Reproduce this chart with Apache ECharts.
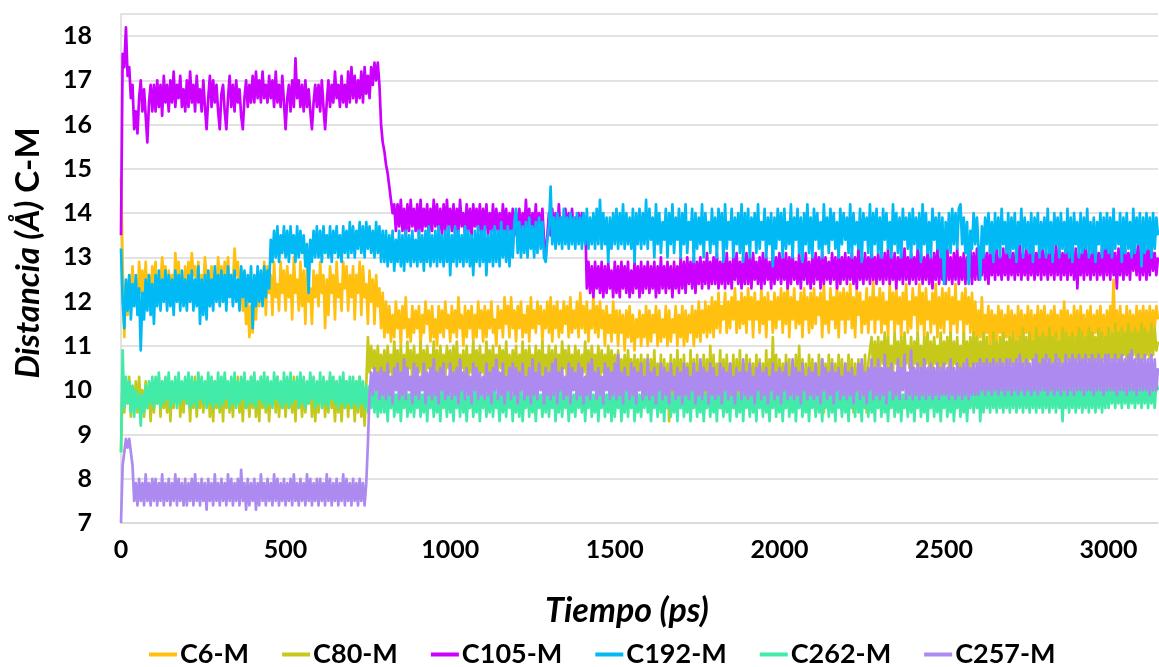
<!DOCTYPE html>
<html>
<head>
<meta charset="utf-8">
<title>Distancia C-M vs Tiempo</title>
<script src="https://cdn.jsdelivr.net/npm/echarts/dist/echarts.min.js"></script>
<style>
  html, body { margin: 0; padding: 0; background: #ffffff; }
  #chart { width: 1159px; height: 667px; }
</style>
</head>
<body>
<div id="chart"></div>
<script>
// Sampling interval of the exported trajectory (ps)
const timeStepPs = 5;

const seriesNames = ['C6-M', 'C80-M', 'C105-M', 'C192-M', 'C262-M', 'C257-M'];
const xTicks = [0, 500, 1000, 1500, 2000, 2500, 3000];
const yTicks = [7, 8, 9, 10, 11, 12, 13, 14, 15, 16, 17, 18];

// Distances (Å), one value every 5 ps from 0 to 3150 ps (20 values per 100 ps row)
const c6M = [
  14.8, 12.9, 11.2, 12.4, 11.7, 12.6, 11.9, 12.8, 12.0, 12.5, 11.8, 12.9, 12.2, 12.7, 12.0, 12.9, 12.1, 12.6, 11.9, 12.8,
  12.3, 12.9, 12.0, 12.6, 12.4, 13.0, 12.5, 12.8, 11.9, 12.7, 12.2, 12.6, 12.0, 13.1, 12.5, 12.9, 12.3, 12.6, 12.1, 12.8,
  12.0, 12.9, 12.4, 13.1, 12.6, 12.8, 12.2, 12.9, 12.0, 12.6, 12.3, 13.0, 12.5, 12.7, 11.9, 12.8, 12.3, 12.6, 12.2, 13.0,
  12.4, 12.8, 12.0, 12.9, 12.5, 13.0, 12.2, 12.6, 12.4, 13.2, 12.6, 12.9, 12.1, 12.7, 11.8, 12.3, 11.5, 12.1, 11.2, 11.9,
  11.3, 12.3, 11.6, 12.5, 11.9, 12.6, 12.1, 12.9, 11.7, 12.8, 12.2, 12.6, 11.7, 12.9, 12.1, 12.4, 11.8, 12.9, 12.2, 12.7,
  11.8, 12.8, 12.1, 12.6, 11.6, 13.0, 12.2, 12.5, 11.8, 12.9, 11.9, 12.7, 11.5, 12.8, 12.0, 12.3, 11.5, 12.7, 12.1, 12.6,
  11.9, 12.9, 12.2, 12.6, 11.4, 12.5, 11.7, 12.8, 12.2, 12.6, 11.6, 12.9, 12.1, 12.4, 11.8, 12.9, 12.3, 12.8, 11.8, 12.6,
  12.1, 12.8, 11.6, 12.6, 12.2, 12.9, 11.7, 12.8, 12.1, 12.4, 11.5, 12.7, 12.0, 12.5, 11.5, 12.6, 11.9, 12.3, 11.4, 12.2,
  11.2, 12.0, 11.3, 11.9, 11.1, 11.7, 11.2, 12.0, 11.4, 11.8, 11.0, 11.9, 11.4, 12.1, 11.2, 11.6, 11.1, 11.9, 11.3, 11.8,
  11.4, 11.9, 11.0, 11.7, 11.3, 12.0, 11.5, 11.8, 11.1, 11.9, 11.2, 11.6, 11.0, 11.9, 11.3, 11.8, 11.2, 12.0, 11.4, 11.7,
  11.1, 11.9, 11.3, 11.8, 11.2, 12.1, 11.4, 11.7, 11.0, 11.9, 11.2, 11.8, 11.4, 11.9, 11.1, 11.7, 11.2, 12.0, 11.4, 11.8,
  11.1, 11.9, 11.2, 11.8, 11.4, 12.0, 11.3, 11.6, 11.0, 11.9, 11.4, 11.8, 11.2, 12.1, 11.5, 11.9, 11.2, 12.1, 11.4, 11.8,
  11.1, 11.9, 11.4, 12.0, 11.2, 11.7, 11.3, 11.9, 11.1, 12.1, 11.4, 11.8, 11.3, 12.0, 11.5, 11.9, 11.1, 11.8, 11.4, 12.0,
  11.3, 12.1, 11.1, 11.9, 11.4, 12.0, 11.2, 11.8, 11.3, 12.0, 11.5, 11.9, 11.2, 12.1, 11.3, 11.8, 11.4, 12.0, 11.2, 12.2,
  11.4, 11.9, 11.3, 12.0, 11.1, 11.8, 11.4, 12.1, 11.3, 11.9, 11.2, 12.0, 11.4, 11.8, 11.0, 11.9, 11.3, 11.7, 11.1, 12.0,
  11.3, 11.8, 11.0, 11.8, 11.3, 11.7, 10.9, 11.8, 11.2, 11.9, 11.1, 11.7, 10.9, 11.6, 11.2, 11.8, 11.0, 11.7, 11.2, 11.9,
  11.0, 11.8, 11.1, 11.7, 11.3, 11.9, 11.0, 11.8, 11.1, 11.6, 11.2, 11.9, 11.0, 11.8, 11.1, 11.6, 11.3, 11.9, 11.0, 11.7,
  11.2, 11.9, 11.0, 11.8, 11.1, 11.7, 11.3, 11.9, 11.0, 11.8, 11.2, 12.0, 11.1, 11.8, 11.3, 12.0, 11.2, 11.9, 11.3, 12.1,
  11.2, 12.0, 11.4, 12.2, 11.3, 11.9, 11.6, 12.2, 11.3, 12.0, 11.4, 12.1, 11.6, 12.3, 11.3, 12.0, 11.4, 12.2, 11.5, 12.1,
  11.3, 12.3, 11.6, 12.1, 11.2, 12.2, 11.6, 12.0, 11.3, 12.3, 11.5, 12.1, 11.2, 12.2, 11.6, 12.0, 11.3, 12.2, 11.4, 12.1,
  11.6, 12.3, 11.3, 12.2, 11.5, 12.4, 11.2, 12.1, 11.6, 12.3, 11.4, 12.0, 11.5, 12.2, 11.2, 12.3, 11.6, 12.1, 11.3, 12.2,
  11.4, 12.3, 11.5, 12.1, 11.7, 12.2, 11.2, 12.4, 11.5, 12.0, 11.3, 12.3, 11.6, 12.1, 11.4, 12.4, 11.2, 12.2, 11.6, 12.3,
  11.3, 12.2, 11.6, 12.4, 11.4, 12.1, 11.2, 12.3, 11.7, 12.2, 11.3, 12.0, 11.5, 12.3, 11.3, 12.1, 11.6, 12.5, 11.3, 12.1,
  11.6, 12.3, 11.3, 12.2, 11.5, 12.0, 11.2, 12.4, 11.6, 12.2, 11.3, 12.3, 11.5, 12.1, 11.2, 12.2, 11.6, 12.4, 11.3, 12.0,
  11.4, 12.3, 11.7, 12.1, 11.3, 12.4, 11.5, 12.2, 11.2, 12.3, 11.6, 12.0, 11.3, 12.2, 11.5, 12.4, 11.2, 12.1, 11.4, 12.3,
  11.3, 12.2, 11.6, 12.3, 11.2, 12.1, 11.5, 12.4, 11.3, 12.0, 11.6, 12.2, 11.2, 12.3, 11.5, 12.1, 11.3, 12.2, 11.2, 12.0,
  11.0, 11.8, 11.2, 12.1, 11.0, 11.7, 11.3, 11.9, 10.9, 11.8, 11.2, 11.7, 11.0, 11.9, 11.3, 11.8, 10.9, 11.7, 11.2, 11.9,
  11.0, 11.8, 11.3, 11.7, 10.9, 11.9, 11.2, 11.8, 11.0, 11.7, 11.3, 11.9, 11.0, 11.8, 10.9, 11.7, 11.2, 11.9, 11.0, 11.8,
  11.2, 11.9, 11.0, 11.7, 11.3, 11.8, 10.9, 11.9, 11.2, 11.7, 11.0, 11.8, 11.3, 12.0, 11.0, 11.8, 11.2, 11.7, 10.9, 11.9,
  11.2, 11.8, 11.0, 11.9, 11.3, 11.7, 11.0, 11.8, 11.2, 11.9, 10.9, 11.7, 11.3, 11.8, 11.0, 11.9, 11.2, 11.7, 11.0, 11.8,
  11.2, 11.9, 11.3, 12.5, 11.1, 11.8, 11.0, 11.9, 11.3, 11.7, 11.1, 11.9, 11.0, 11.8, 11.3, 11.7, 11.0, 11.9, 11.2, 11.8,
  11.1, 11.9, 11.3, 11.8, 11.1, 11.9, 11.3, 11.8, 11.4, 11.9, 11.6
];

const c80M = [
  8.6, 10.3, 9.5, 10.2, 9.7, 10.3, 9.4, 10.1, 9.6, 10.2, 9.5, 10.3, 9.7, 10.0, 9.4, 10.2, 9.6, 10.1, 9.3, 10.2,
  9.5, 10.1, 9.7, 10.3, 9.4, 10.2, 9.6, 10.0, 9.5, 10.3, 9.3, 10.1, 9.6, 10.2, 9.7, 10.3, 9.4, 10.0, 9.5, 10.2,
  9.7, 10.1, 9.3, 10.2, 9.6, 10.3, 9.4, 10.0, 9.6, 10.2, 9.5, 10.1, 9.7, 10.3, 9.4, 10.1, 9.3, 10.2, 9.6, 10.0,
  9.5, 10.2, 9.3, 10.3, 9.6, 10.0, 9.5, 10.2, 9.4, 10.1, 9.7, 10.3, 9.5, 10.1, 9.3, 10.2, 9.6, 10.0, 9.4, 10.3,
  9.6, 10.2, 9.4, 10.1, 9.3, 10.3, 9.6, 10.0, 9.5, 10.2, 9.3, 10.1, 9.7, 10.2, 9.5, 10.3, 9.4, 10.0, 9.6, 10.1,
  9.4, 10.2, 9.6, 10.0, 9.5, 10.3, 9.3, 10.2, 9.6, 10.1, 9.4, 10.2, 9.5, 10.0, 9.7, 10.3, 9.4, 10.2, 9.3, 10.1,
  9.5, 10.2, 9.7, 10.0, 9.4, 10.1, 9.5, 10.3, 9.6, 10.0, 9.3, 10.2, 9.5, 10.1, 9.3, 10.0, 9.6, 10.2, 9.4, 10.1,
  9.6, 10.1, 9.3, 10.2, 9.5, 10.3, 9.4, 10.0, 9.2, 10.1, 11.2, 10.4, 11.0, 10.5, 10.9, 10.3, 11.0, 10.4, 10.8, 10.3,
  10.9, 10.2, 11.0, 10.4, 10.8, 10.3, 11.1, 10.5, 10.9, 10.2, 11.0, 10.4, 10.8, 10.3, 11.1, 10.5, 10.9, 10.2, 11.0, 10.3,
  10.8, 10.4, 11.1, 10.3, 10.9, 10.2, 11.0, 10.5, 10.8, 10.3, 11.1, 10.4, 10.9, 10.2, 11.0, 10.4, 10.8, 10.3, 11.0, 10.5,
  10.9, 10.2, 11.0, 10.3, 11.1, 10.4, 10.8, 10.5, 10.9, 10.2, 11.0, 10.3, 10.8, 10.4, 11.1, 10.3, 10.9, 10.2, 11.0, 10.4,
  10.8, 10.3, 11.1, 10.4, 10.9, 10.2, 11.0, 10.3, 10.8, 10.4, 11.0, 10.5, 10.9, 10.2, 11.1, 10.3, 10.8, 10.2, 10.9, 10.4,
  11.0, 10.2, 10.8, 10.4, 11.1, 10.3, 10.9, 10.2, 11.0, 10.5, 10.8, 10.3, 11.0, 10.4, 10.9, 10.2, 11.1, 10.3, 10.8, 10.4,
  11.0, 10.3, 10.9, 10.2, 11.0, 10.4, 10.8, 10.3, 11.1, 10.5, 10.9, 10.2, 11.0, 10.3, 10.8, 10.4, 11.0, 10.3, 10.9, 10.2,
  10.8, 10.4, 11.1, 10.3, 10.9, 10.2, 11.0, 10.4, 10.8, 10.3, 11.0, 10.2, 10.9, 10.4, 10.8, 10.3, 11.0, 10.2, 10.9, 10.3,
  10.8, 10.2, 10.9, 10.3, 10.7, 10.2, 10.8, 10.1, 10.9, 10.3, 10.7, 10.1, 10.8, 10.2, 10.7, 10.0, 10.8, 9.9, 10.7, 10.0,
  10.8, 9.8, 10.7, 9.9, 10.9, 9.7, 10.6, 9.8, 10.8, 9.7, 10.7, 9.6, 10.6, 9.3, 10.8, 9.7, 10.7, 9.8, 10.9, 9.9,
  10.7, 9.7, 10.8, 9.8, 10.6, 9.6, 10.9, 9.9, 10.7, 9.7, 10.8, 9.8, 10.6, 9.6, 10.8, 9.9, 10.7, 9.7, 11.0, 9.8,
  10.8, 9.7, 10.6, 9.9, 10.9, 9.6, 10.7, 9.8, 10.8, 9.7, 10.6, 9.9, 10.8, 9.6, 10.7, 9.8, 10.9, 9.7, 10.6, 9.9,
  10.8, 9.7, 10.7, 9.8, 10.6, 9.6, 10.8, 9.9, 10.7, 9.7, 10.6, 9.8, 10.9, 9.6, 10.7, 9.9, 11.2, 9.8, 10.8, 9.7,
  10.7, 9.8, 10.6, 9.6, 10.8, 9.9, 10.7, 9.7, 10.6, 9.8, 10.8, 9.7, 11.0, 9.8, 10.7, 9.6, 10.6, 9.7, 10.8, 9.9,
  10.7, 9.7, 10.6, 9.8, 10.8, 9.6, 10.7, 9.5, 10.6, 9.7, 10.8, 9.8, 10.7, 9.6, 10.6, 9.7, 10.8, 9.9, 10.7, 9.6,
  10.6, 9.7, 10.8, 9.8, 10.7, 9.5, 10.6, 9.7, 10.7, 9.6, 10.6, 9.8, 10.8, 9.5, 10.6, 10.6, 11.2, 10.5, 11.1, 10.4,
  11.2, 10.5, 11.1, 10.6, 11.3, 10.4, 11.2, 10.5, 11.0, 10.4, 11.3, 10.6, 11.1, 10.5, 11.2, 10.4, 11.3, 10.6, 11.0, 10.5,
  11.2, 10.4, 11.1, 10.6, 11.3, 10.5, 11.0, 10.4, 11.2, 10.6, 11.3, 10.5, 11.1, 10.4, 11.2, 10.6, 11.0, 10.5, 11.3, 10.4,
  11.1, 10.6, 11.2, 10.5, 11.3, 10.4, 11.1, 10.6, 11.2, 10.5, 11.0, 10.4, 11.3, 10.6, 11.1, 10.5, 11.2, 10.4, 11.3, 10.6,
  11.2, 10.5, 11.1, 10.6, 11.3, 10.4, 11.2, 10.6, 11.0, 10.5, 11.3, 10.6, 11.1, 10.4, 11.2, 10.5, 11.3, 10.6, 11.1, 10.5,
  11.2, 10.6, 11.3, 10.5, 11.1, 10.7, 11.2, 10.5, 11.4, 10.6, 11.2, 10.5, 11.3, 10.7, 11.1, 10.6, 11.4, 10.5, 11.2, 10.6,
  11.3, 10.6, 11.2, 10.7, 11.4, 10.5, 11.2, 10.6, 11.3, 10.7, 11.1, 10.6, 11.4, 10.5, 11.3, 10.7, 11.2, 10.6, 11.3, 10.5,
  11.2, 10.7, 11.4, 10.6, 11.3, 10.5, 11.2, 10.7, 11.4, 10.6, 11.3, 10.5, 11.2, 10.7, 11.4, 10.6, 11.3, 10.7, 11.2, 10.6,
  11.4, 10.7, 11.3, 10.6, 11.5, 10.7, 11.3, 10.6, 11.4, 10.8, 11.3, 10.6, 11.5, 10.7, 11.3, 10.8, 11.4, 10.7, 11.3, 10.6,
  11.5, 10.7, 11.4, 10.8, 11.3, 10.7, 11.5, 10.8, 11.4, 10.9, 11.1
];

const c105M = [
  13.5, 17.6, 17.3, 18.2, 17.1, 17.3, 16.6, 16.9, 15.9, 16.3, 15.8, 16.6, 17.0, 16.3, 16.8, 16.2, 15.6, 16.5, 16.9, 16.3,
  16.9, 16.3, 17.0, 16.4, 16.9, 16.2, 17.1, 16.5, 16.9, 16.3, 17.0, 16.5, 17.2, 16.4, 16.9, 16.6, 17.1, 16.4, 16.8, 16.3,
  17.0, 16.4, 17.2, 16.5, 16.9, 16.3, 17.1, 16.5, 16.8, 16.3, 17.0, 16.4, 15.9, 16.6, 17.1, 16.4, 17.0, 16.5, 16.9, 16.3,
  15.9, 16.7, 16.9, 16.3, 15.9, 16.6, 17.1, 16.4, 16.9, 16.3, 17.0, 16.5, 16.8, 16.2, 15.9, 16.6, 17.0, 16.4, 16.9, 16.5,
  17.1, 16.5, 17.2, 16.6, 17.0, 16.5, 17.2, 16.6, 16.9, 16.5, 17.1, 16.6, 17.0, 16.4, 17.2, 16.5, 16.9, 16.4, 17.1, 16.5,
  15.9, 16.6, 16.9, 16.3, 17.0, 16.4, 17.5, 16.6, 17.0, 16.4, 16.9, 16.3, 17.0, 16.4, 16.8, 16.3, 15.9, 16.5, 16.9, 16.4,
  16.9, 16.3, 17.0, 16.4, 15.9, 16.5, 17.0, 16.4, 16.9, 16.5, 17.2, 16.6, 16.9, 16.4, 17.1, 16.5, 16.9, 16.4, 17.2, 16.5,
  17.3, 16.6, 17.1, 16.5, 17.0, 16.6, 17.2, 16.5, 17.3, 16.7, 17.1, 16.6, 17.3, 16.9, 17.4, 17.0, 17.4, 16.9, 16.0, 15.6,
  15.4, 15.1, 14.9, 14.6, 14.3, 14.0, 14.2, 13.6, 14.2, 13.7, 14.3, 13.6, 14.1, 13.5, 14.2, 13.6, 14.3, 13.7, 14.1, 13.6,
  14.2, 13.5, 14.3, 13.6, 14.1, 13.7, 14.2, 13.5, 14.1, 13.6, 14.3, 13.7, 14.2, 13.6, 14.1, 13.5, 14.2, 13.6, 14.3, 13.7,
  14.1, 13.6, 14.2, 13.5, 14.1, 13.6, 14.3, 13.7, 14.0, 13.5, 14.2, 13.6, 14.1, 13.5, 14.2, 13.7, 14.1, 13.6, 14.2, 13.5,
  14.1, 13.6, 14.2, 13.5, 14.0, 13.6, 14.2, 13.5, 14.1, 13.6, 14.0, 13.5, 14.2, 13.6, 14.1, 13.5, 14.0, 13.6, 14.1, 13.5,
  14.0, 13.6, 14.1, 13.5, 14.0, 13.5, 14.3, 13.6, 14.1, 13.5, 14.0, 13.6, 14.2, 13.5, 14.0, 13.6, 14.1, 13.4, 13.0, 13.5,
  14.0, 13.5, 14.1, 13.6, 14.0, 13.5, 14.2, 13.6, 13.9, 13.5, 14.1, 13.6, 14.0, 13.5, 14.1, 13.6, 13.9, 13.5, 14.0, 13.6,
  14.0, 13.5, 13.9, 12.3, 12.9, 12.2, 12.8, 12.1, 12.9, 12.3, 12.8, 12.2, 12.9, 12.1, 12.8, 12.2, 12.9, 12.3, 12.7, 12.1,
  12.9, 12.2, 12.8, 12.1, 12.9, 12.3, 12.8, 12.2, 12.9, 12.1, 12.7, 12.2, 12.9, 12.3, 12.8, 12.1, 12.9, 12.2, 12.8, 12.3,
  12.9, 12.2, 12.8, 12.3, 12.9, 12.1, 12.8, 12.2, 13.0, 12.3, 12.8, 12.2, 12.9, 12.3, 12.8, 12.1, 12.9, 12.3, 12.8, 12.2,
  13.0, 12.3, 12.9, 12.2, 13.0, 12.4, 12.9, 12.3, 13.0, 12.2, 12.9, 12.4, 13.0, 12.3, 12.9, 12.4, 13.1, 12.3, 12.9, 12.4,
  13.0, 12.4, 13.1, 12.3, 12.9, 12.4, 13.0, 12.3, 13.1, 12.4, 12.9, 12.3, 13.0, 12.5, 13.1, 12.4, 12.9, 12.3, 13.0, 12.4,
  13.1, 12.4, 13.0, 12.3, 13.1, 12.5, 12.9, 12.4, 13.0, 12.3, 13.1, 12.4, 13.0, 12.5, 12.9, 12.3, 13.1, 12.4, 13.0, 12.5,
  13.1, 12.4, 13.0, 12.5, 13.1, 12.3, 13.0, 12.4, 13.1, 12.5, 12.9, 12.4, 13.1, 12.3, 13.0, 12.5, 13.1, 12.4, 12.9, 12.3,
  13.0, 12.4, 13.1, 12.5, 13.0, 12.3, 13.1, 12.4, 13.0, 12.5, 12.9, 12.4, 13.1, 12.5, 13.0, 12.3, 13.1, 12.4, 13.0, 12.5,
  13.1, 12.4, 13.0, 12.5, 13.1, 12.4, 13.0, 12.3, 13.2, 12.5, 13.0, 12.4, 13.1, 12.5, 13.0, 12.4, 13.2, 12.5, 13.0, 12.4,
  13.1, 12.5, 13.0, 12.4, 13.1, 12.5, 13.2, 12.4, 13.0, 12.5, 13.1, 12.3, 13.0, 12.5, 13.1, 12.4, 13.2, 12.5, 13.0, 12.4,
  13.1, 12.5, 13.0, 12.4, 13.2, 12.5, 13.1, 12.4, 13.0, 12.5, 13.1, 12.4, 13.0, 12.3, 13.1, 12.5, 13.2, 12.4, 13.0, 12.5,
  13.1, 12.4, 13.2, 12.5, 13.0, 12.4, 13.1, 12.5, 13.2, 12.4, 13.0, 12.5, 13.1, 12.4, 13.0, 12.5, 13.2, 12.4, 13.1, 12.5,
  13.2, 12.5, 13.1, 12.6, 13.2, 12.5, 13.1, 12.4, 13.2, 12.6, 13.1, 12.5, 13.2, 12.6, 13.0, 12.5, 13.2, 12.6, 13.1, 12.5,
  13.2, 12.6, 13.1, 12.5, 13.2, 12.6, 13.3, 12.5, 13.1, 12.6, 13.2, 12.5, 13.1, 12.6, 13.2, 12.5, 13.1, 12.6, 13.3, 12.5,
  13.2, 12.6, 13.1, 12.5, 13.2, 12.6, 13.1, 12.5, 13.3, 12.6, 13.2, 12.5, 13.1, 12.6, 13.2, 12.5, 13.3, 12.6, 13.1, 12.5,
  13.2, 12.3, 13.1, 12.6, 13.2, 12.5, 13.3, 12.6, 13.1, 12.5, 13.2, 12.6, 13.3, 12.5, 13.1, 12.6, 13.2, 12.5, 13.3, 12.6,
  13.2, 12.5, 13.3, 12.6, 13.1, 12.3, 13.2, 12.6, 13.3, 12.5, 13.2, 12.6, 13.1, 12.5, 13.3, 12.7, 13.2, 12.6, 13.3, 12.5,
  13.2, 12.6, 13.3, 12.5, 13.2, 12.6, 13.3, 12.7, 13.1, 12.6, 13.0
];

const c192M = [
  13.2, 12.0, 11.4, 12.5, 11.8, 12.6, 11.6, 12.4, 11.9, 12.6, 11.7, 12.3, 10.9, 12.2, 11.6, 12.5, 11.8, 12.6, 11.7, 12.4,
  11.5, 12.6, 11.9, 12.7, 11.8, 12.5, 12.0, 12.7, 11.8, 12.6, 11.9, 12.5, 11.7, 12.7, 12.0, 12.6, 11.8, 12.7, 11.9, 12.5,
  11.8, 12.6, 12.0, 12.7, 11.8, 12.5, 11.9, 12.8, 11.5, 12.5, 11.7, 12.6, 11.6, 12.7, 11.9, 12.5, 11.8, 12.8, 12.0, 12.6,
  11.9, 12.7, 12.0, 12.6, 11.8, 12.8, 12.1, 12.6, 11.9, 12.7, 12.0, 12.5, 11.8, 12.8, 12.1, 12.7, 11.9, 12.6, 12.0, 12.8,
  11.4, 12.6, 11.9, 12.8, 12.0, 12.7, 11.9, 12.8, 12.1, 12.7, 12.3, 13.4, 12.9, 13.6, 13.0, 13.7, 12.9, 13.5, 13.1, 13.7,
  13.0, 13.6, 12.9, 13.7, 13.1, 13.5, 12.9, 13.7, 13.0, 13.6, 13.1, 13.5, 12.8, 13.3, 12.2, 13.4, 12.9, 13.6, 13.0, 13.7,
  13.0, 13.6, 12.9, 13.7, 13.1, 13.5, 13.0, 13.7, 12.9, 13.6, 13.1, 13.7, 13.0, 13.5, 12.9, 13.7, 13.1, 13.6, 13.0, 13.8,
  13.1, 13.7, 13.0, 13.6, 13.2, 13.8, 13.1, 13.7, 13.0, 13.8, 13.2, 13.7, 13.1, 13.6, 13.0, 13.8, 13.1, 13.7, 12.9, 13.6,
  12.9, 13.6, 12.8, 13.5, 12.9, 13.6, 12.7, 13.4, 12.9, 13.6, 12.8, 13.5, 12.7, 13.6, 12.9, 13.5, 12.8, 13.6, 12.9, 13.4,
  12.8, 13.6, 12.9, 13.5, 12.7, 13.6, 12.9, 13.7, 12.8, 13.5, 12.9, 13.6, 12.8, 13.7, 12.9, 13.5, 12.8, 13.6, 12.9, 13.7,
  12.6, 13.5, 12.9, 13.7, 12.8, 13.6, 12.9, 13.5, 12.8, 13.7, 12.9, 13.6, 12.8, 13.5, 12.6, 13.6, 12.9, 13.7, 12.8, 13.6,
  12.9, 13.7, 12.6, 13.5, 12.9, 13.6, 12.8, 13.7, 12.9, 13.6, 12.8, 13.8, 13.0, 13.6, 12.9, 13.7, 12.8, 13.6, 13.0, 13.8,
  14.1, 13.1, 13.8, 13.0, 13.7, 13.1, 13.8, 13.0, 13.9, 13.2, 13.7, 13.0, 13.8, 13.1, 13.9, 13.2, 13.8, 13.0, 12.9, 13.4,
  13.7, 14.6, 13.3, 13.9, 13.2, 14.0, 13.3, 13.9, 13.2, 14.1, 13.3, 13.9, 13.2, 14.0, 13.3, 13.9, 13.2, 14.0, 13.3, 13.9,
  13.2, 14.0, 13.3, 14.1, 13.2, 13.9, 13.3, 14.0, 13.2, 14.1, 13.3, 14.3, 13.2, 14.0, 13.3, 13.9, 12.9, 13.9, 13.2, 14.0,
  13.3, 14.1, 13.2, 14.0, 13.3, 14.2, 13.2, 14.0, 13.3, 13.9, 13.2, 14.1, 12.9, 14.0, 13.3, 14.1, 13.2, 14.0, 13.3, 14.3,
  13.2, 14.1, 13.4, 13.9, 13.0, 14.2, 13.3, 14.0, 13.1, 13.8, 13.4, 14.1, 13.0, 14.0, 13.3, 14.2, 13.1, 13.9, 13.4, 14.1,
  13.0, 14.0, 13.3, 14.2, 13.1, 13.8, 13.4, 14.1, 12.9, 14.0, 13.2, 13.9, 13.3, 14.2, 13.0, 14.0, 13.4, 13.8, 13.1, 14.1,
  13.3, 13.9, 13.0, 14.1, 13.4, 14.0, 12.9, 14.2, 13.2, 13.8, 13.4, 14.1, 13.0, 13.9, 13.3, 14.0, 13.1, 14.2, 12.9, 14.0,
  13.3, 14.1, 13.0, 13.9, 13.4, 14.0, 13.1, 14.2, 13.2, 13.8, 13.4, 14.1, 13.0, 13.9, 13.3, 14.0, 12.8, 13.9, 13.2, 14.1,
  13.4, 14.0, 13.0, 14.1, 13.2, 13.8, 13.3, 14.2, 13.0, 13.9, 13.4, 14.1, 13.1, 13.9, 12.9, 14.0, 13.3, 14.2, 13.1, 13.9,
  13.0, 14.1, 13.4, 14.0, 13.2, 13.8, 13.0, 14.2, 13.3, 13.9, 13.1, 14.1, 13.4, 14.0, 13.2, 13.8, 13.0, 14.1, 13.3, 14.0,
  13.4, 13.9, 13.1, 14.2, 13.0, 14.0, 13.3, 13.8, 13.2, 14.1, 12.9, 14.0, 13.4, 13.9, 13.1, 14.2, 13.0, 14.0, 13.3, 14.1,
  13.1, 13.9, 13.0, 14.1, 13.4, 14.0, 13.2, 13.8, 13.0, 14.2, 13.3, 14.0, 13.1, 13.9, 13.0, 14.1, 13.4, 13.9, 13.2, 14.0,
  13.0, 14.1, 13.3, 13.9, 13.2, 14.0, 12.9, 14.2, 13.3, 14.0, 13.1, 13.8, 13.0, 14.1, 13.4, 13.9, 13.2, 14.0, 13.0, 13.9,
  12.4, 13.8, 13.2, 14.0, 13.1, 14.1, 13.3, 14.0, 13.2, 14.1, 14.2, 13.3, 13.9, 13.1, 13.8, 12.4, 13.6, 13.2, 14.0, 13.3,
  13.9, 13.2, 12.5, 13.7, 13.0, 13.9, 13.3, 14.0, 13.1, 13.8, 12.9, 14.0, 13.2, 13.9, 13.0, 14.1, 13.3, 13.8, 13.1, 14.0,
  13.0, 13.9, 13.2, 14.0, 12.9, 13.8, 13.3, 14.1, 13.0, 13.9, 13.2, 13.8, 13.1, 14.0, 12.9, 13.9, 13.3, 14.0, 13.0, 13.8,
  13.2, 13.9, 13.0, 14.1, 13.1, 13.8, 12.9, 14.0, 13.3, 13.9, 13.0, 14.0, 13.2, 13.8, 13.1, 14.1, 13.0, 13.9, 12.9, 14.0,
  13.3, 13.8, 13.0, 14.0, 13.1, 13.9, 13.2, 14.1, 13.0, 13.8, 13.1, 13.9, 12.9, 13.8, 13.3, 14.0, 13.0, 13.9, 13.2, 14.0,
  13.1, 13.9, 13.0, 14.1, 13.2, 13.8, 13.3, 14.0, 12.9, 13.9, 13.1, 14.0, 13.2, 13.8, 13.0, 14.1, 13.1, 13.9, 13.3, 14.0,
  12.8, 13.9, 13.1, 14.0, 13.2, 13.9, 13.0, 14.0, 13.2, 13.9, 13.5
];

const c262M = [
  8.6, 10.9, 9.6, 10.3, 9.7, 10.2, 9.5, 10.1, 9.4, 10.0, 9.6, 9.9, 9.2, 9.9, 9.5, 10.1, 9.6, 10.2, 9.7, 10.3,
  9.6, 10.3, 9.7, 10.4, 9.6, 10.2, 9.7, 10.3, 9.8, 10.4, 9.6, 10.2, 9.7, 10.3, 9.6, 10.4, 9.7, 10.2, 9.8, 10.3,
  9.7, 10.4, 9.6, 10.3, 9.7, 10.2, 9.6, 10.4, 9.8, 10.3, 9.7, 10.2, 9.6, 10.4, 9.7, 10.3, 9.6, 10.2, 9.7, 10.4,
  9.6, 10.3, 9.7, 10.4, 9.8, 10.2, 9.6, 10.3, 9.7, 10.4, 9.6, 10.2, 9.7, 10.3, 9.8, 10.4, 9.6, 10.2, 9.7, 10.3,
  9.7, 10.4, 9.6, 10.2, 9.8, 10.3, 9.7, 10.4, 9.6, 10.3, 9.7, 10.2, 9.6, 10.4, 9.8, 10.3, 9.7, 10.2, 9.6, 10.4,
  9.7, 10.3, 9.6, 10.4, 9.7, 10.2, 9.8, 10.3, 9.6, 10.4, 9.7, 10.3, 9.6, 10.2, 9.7, 10.4, 9.8, 10.3, 9.6, 10.2,
  9.7, 10.4, 9.6, 10.3, 9.7, 10.2, 9.6, 10.4, 9.8, 10.3, 9.7, 10.2, 9.6, 10.3, 9.7, 10.4, 9.6, 10.2, 9.7, 10.3,
  9.6, 10.3, 9.7, 10.2, 9.6, 10.3, 9.7, 10.2, 9.6, 10.1, 9.5, 10.1, 9.6, 10.0, 9.5, 10.1, 9.4, 10.0, 9.5, 10.1,
  9.5, 10.1, 9.3, 10.0, 9.6, 10.2, 9.4, 9.9, 9.5, 10.1, 9.3, 10.0, 9.6, 10.1, 9.4, 9.9, 9.5, 10.2, 9.4, 10.0,
  9.6, 10.1, 9.4, 9.9, 9.5, 10.2, 9.3, 10.0, 9.6, 10.1, 9.4, 10.0, 9.5, 9.9, 9.3, 10.1, 9.6, 10.0, 9.4, 10.2,
  9.5, 9.9, 9.3, 10.1, 9.6, 10.0, 9.4, 10.2, 9.5, 10.0, 9.3, 9.9, 9.6, 10.1, 9.4, 10.0, 9.5, 10.2, 9.3, 10.0,
  9.6, 10.1, 9.4, 9.9, 9.5, 10.2, 9.4, 10.0, 9.6, 9.9, 9.3, 10.1, 9.5, 10.0, 9.4, 10.2, 9.6, 9.9, 9.3, 10.1,
  9.5, 10.0, 9.4, 10.1, 9.3, 9.9, 9.6, 10.2, 9.4, 10.0, 9.5, 10.1, 9.3, 10.0, 9.6, 9.9, 9.4, 10.1, 9.5, 10.2,
  9.4, 10.0, 9.6, 10.1, 9.3, 9.9, 9.5, 10.2, 9.4, 10.0, 9.6, 10.1, 9.3, 10.0, 9.5, 9.9, 9.4, 10.2, 9.6, 10.0,
  9.5, 10.1, 9.3, 10.0, 9.6, 10.2, 9.4, 9.9, 9.5, 10.1, 9.3, 10.0, 9.6, 10.1, 9.4, 9.9, 9.5, 10.2, 9.3, 10.0,
  9.4, 10.0, 9.6, 10.1, 9.3, 9.9, 9.5, 10.2, 9.4, 10.0, 9.6, 10.1, 9.3, 10.0, 9.5, 9.9, 9.4, 10.1, 9.6, 10.2,
  9.5, 10.0, 9.3, 10.1, 9.6, 10.0, 9.4, 10.2, 9.5, 9.9, 9.3, 10.1, 9.6, 10.0, 9.4, 9.9, 9.5, 10.2, 9.3, 10.0,
  9.6, 10.1, 9.4, 9.9, 9.5, 10.2, 9.3, 10.0, 9.6, 10.1, 9.4, 10.0, 9.5, 10.2, 9.3, 9.9, 9.6, 10.1, 9.4, 10.0,
  9.5, 10.0, 9.3, 10.1, 9.6, 9.9, 9.4, 10.2, 9.5, 10.0, 9.3, 10.1, 9.6, 10.0, 9.4, 9.9, 9.5, 10.2, 9.3, 10.1,
  9.6, 10.0, 9.4, 10.1, 9.5, 9.9, 9.3, 10.2, 9.6, 10.0, 9.4, 10.1, 9.5, 9.9, 9.3, 10.0, 9.6, 10.2, 9.4, 10.0,
  9.5, 10.1, 9.3, 10.0, 9.6, 10.1, 9.4, 9.9, 9.5, 10.2, 9.3, 10.0, 9.6, 10.1, 9.4, 10.0, 9.5, 9.9, 9.3, 10.1,
  9.6, 10.0, 9.4, 10.2, 9.5, 9.9, 9.3, 10.1, 9.6, 10.0, 9.4, 10.1, 9.5, 10.0, 9.3, 10.2, 9.6, 9.9, 9.4, 10.1,
  9.5, 10.0, 9.3, 10.1, 9.6, 10.0, 9.4, 10.2, 9.5, 9.9, 9.3, 10.1, 9.6, 10.0, 9.4, 10.1, 9.5, 10.0, 9.3, 10.2,
  9.6, 10.0, 9.4, 10.1, 9.5, 9.9, 9.3, 10.1, 9.6, 10.2, 9.4, 10.0, 9.5, 10.1, 9.3, 9.9, 9.6, 10.0, 9.4, 10.1,
  9.5, 10.1, 9.3, 10.0, 9.6, 10.2, 9.4, 9.9, 9.5, 10.1, 9.3, 10.0, 9.6, 10.1, 9.4, 10.0, 9.5, 10.2, 9.3, 10.0,
  9.6, 10.1, 9.4, 10.0, 9.5, 10.2, 9.3, 9.9, 9.6, 10.1, 9.4, 10.0, 9.5, 10.1, 9.3, 10.0, 9.6, 10.2, 9.5, 10.1,
  9.6, 10.2, 9.3, 10.1, 9.5, 10.2, 9.6, 10.1, 9.5, 10.2, 9.6, 10.1, 9.5, 10.2, 9.6, 10.1, 9.5, 10.2, 9.6, 10.1,
  9.5, 10.2, 9.6, 10.1, 9.5, 10.2, 9.6, 10.1, 9.5, 10.2, 9.6, 10.1, 9.5, 10.2, 9.6, 10.1, 9.5, 10.2, 9.6, 10.1,
  9.5, 10.2, 9.6, 10.1, 9.5, 10.2, 9.6, 10.1, 9.5, 10.2, 9.6, 10.1, 9.3, 10.1, 9.6, 10.2, 9.5, 10.1, 9.6, 10.2,
  9.5, 10.1, 9.6, 10.2, 9.5, 10.1, 9.6, 10.2, 9.5, 10.1, 9.6, 10.2, 9.5, 10.1, 9.6, 10.2, 9.5, 10.1, 9.6, 10.2,
  9.6, 10.2, 9.7, 10.1, 9.6, 10.2, 9.7, 10.1, 9.6, 10.2, 9.7, 10.1, 9.6, 10.2, 9.7, 10.1, 9.6, 10.2, 9.7, 10.1,
  9.6, 10.2, 9.7, 10.1, 9.6, 10.2, 9.7, 10.1, 9.6, 10.2, 10.0
];

const c257M = [
  7.0, 8.3, 8.6, 8.9, 8.7, 8.9, 8.6, 8.3, 7.5, 7.9, 7.4, 8.0, 7.5, 7.9, 7.4, 8.1, 7.5, 7.9, 7.4, 8.0,
  7.5, 8.0, 7.4, 7.9, 7.5, 8.1, 7.4, 7.9, 7.5, 8.0, 7.4, 7.9, 7.5, 8.1, 7.4, 8.0, 7.5, 7.9, 7.4, 8.0,
  7.4, 7.9, 7.5, 8.0, 7.4, 8.1, 7.5, 7.9, 7.4, 8.0, 7.5, 7.9, 7.3, 8.0, 7.5, 7.9, 7.4, 8.1, 7.5, 7.9,
  7.4, 8.0, 7.5, 7.9, 7.4, 8.1, 7.5, 8.0, 7.4, 7.9, 7.5, 8.0, 7.4, 8.2, 7.5, 7.9, 7.3, 8.0, 7.4, 7.9,
  7.5, 8.0, 7.3, 7.9, 7.4, 8.1, 7.5, 7.9, 7.4, 8.0, 7.5, 7.9, 7.4, 8.1, 7.5, 8.0, 7.4, 7.9, 7.5, 8.0,
  7.4, 7.9, 7.5, 8.0, 7.4, 8.1, 7.5, 7.9, 7.4, 8.0, 7.5, 7.9, 7.4, 8.1, 7.5, 8.0, 7.4, 7.9, 7.5, 8.0,
  7.4, 8.0, 7.5, 7.9, 7.4, 8.1, 7.5, 8.0, 7.4, 7.9, 7.5, 8.0, 7.4, 7.9, 7.5, 8.1, 7.4, 8.0, 7.5, 7.9,
  7.4, 8.0, 7.5, 7.9, 7.4, 8.0, 7.5, 7.9, 7.4, 7.9, 8.8, 9.9, 10.4, 9.9, 10.5, 10.0, 10.4, 9.8, 10.5, 9.9,
  10.4, 9.8, 10.6, 9.9, 10.3, 9.7, 10.5, 10.0, 10.6, 9.8, 10.4, 9.9, 10.7, 9.8, 10.5, 10.0, 10.3, 9.7, 10.6, 9.9,
  10.5, 9.8, 10.3, 10.0, 10.6, 9.7, 10.4, 9.9, 10.5, 9.8, 10.7, 9.9, 10.4, 9.7, 10.5, 10.0, 10.6, 9.8, 10.3, 9.9,
  10.6, 9.8, 10.4, 9.9, 10.5, 9.7, 10.7, 10.0, 10.4, 9.8, 10.5, 9.9, 10.3, 9.7, 10.6, 10.0, 10.5, 9.8, 10.4, 9.9,
  10.3, 9.8, 10.6, 9.9, 10.4, 9.7, 10.5, 10.0, 10.7, 9.8, 10.4, 9.9, 10.6, 9.7, 10.3, 10.0, 10.5, 9.8, 10.6, 9.9,
  10.5, 9.7, 10.4, 10.0, 10.6, 9.8, 10.3, 9.9, 10.5, 9.7, 10.7, 9.9, 10.4, 9.8, 10.6, 10.0, 10.3, 9.7, 10.5, 9.9,
  10.4, 9.8, 10.6, 9.9, 10.7, 9.7, 10.4, 10.0, 10.5, 9.8, 10.3, 9.9, 10.6, 9.7, 10.5, 10.0, 10.4, 9.8, 10.6, 9.9,
  10.5, 9.7, 10.3, 9.9, 10.6, 9.8, 10.7, 10.0, 10.4, 9.8, 10.5, 9.9, 10.3, 9.7, 10.6, 10.0, 10.5, 9.8, 10.4, 9.9,
  10.6, 9.8, 10.8, 9.9, 10.4, 9.7, 10.5, 10.0, 10.3, 9.8, 10.6, 9.9, 10.5, 9.7, 10.4, 10.0, 10.6, 9.8, 10.3, 9.9,
  10.7, 9.8, 10.4, 9.9, 10.5, 9.7, 10.3, 10.0, 10.6, 9.8, 10.5, 9.9, 10.4, 9.7, 10.6, 10.0, 10.3, 9.8, 10.5, 9.9,
  10.4, 9.7, 10.6, 9.9, 10.5, 9.8, 10.3, 10.0, 10.6, 9.7, 10.4, 9.9, 10.7, 9.8, 10.5, 10.0, 10.4, 9.7, 10.6, 9.9,
  10.5, 9.8, 10.3, 9.9, 10.6, 9.7, 10.5, 10.0, 10.4, 9.8, 10.6, 9.9, 10.3, 9.7, 10.5, 10.0, 10.4, 9.8, 10.7, 9.9,
  10.4, 9.8, 10.6, 9.9, 10.3, 9.7, 10.5, 10.0, 10.6, 9.8, 10.4, 9.9, 10.5, 9.7, 10.3, 10.0, 10.6, 9.8, 10.4, 9.9,
  10.5, 9.7, 10.4, 10.0, 10.6, 9.8, 10.3, 9.9, 10.7, 9.8, 10.5, 9.9, 10.4, 9.7, 10.6, 10.0, 10.3, 9.8, 10.5, 9.9,
  10.4, 9.8, 10.6, 9.9, 10.3, 9.7, 10.7, 10.0, 10.5, 9.8, 10.4, 9.9, 10.6, 9.7, 10.4, 10.0, 10.5, 9.8, 10.3, 9.9,
  10.6, 9.8, 10.4, 9.9, 10.5, 9.7, 10.3, 10.0, 10.6, 9.8, 10.7, 9.9, 10.4, 9.7, 10.5, 10.0, 10.7, 9.8, 10.5, 9.9,
  10.7, 9.8, 10.5, 9.9, 10.8, 9.7, 10.5, 10.0, 10.6, 9.8, 10.4, 9.9, 10.7, 9.8, 10.5, 10.0, 10.8, 9.8, 10.4, 9.9,
  10.9, 9.8, 10.5, 9.9, 10.6, 9.8, 10.5, 9.9, 10.7, 9.8, 10.5, 9.9, 10.6, 9.8, 10.5, 9.9, 10.6, 9.8, 10.5, 9.9,
  10.6, 9.9, 10.5, 9.8, 10.7, 9.9, 10.5, 9.8, 10.6, 9.9, 10.5, 9.8, 10.6, 9.9, 10.7, 9.8, 10.5, 9.9, 10.6, 9.9,
  10.6, 9.9, 10.7, 10.0, 10.6, 9.9, 10.7, 10.0, 10.6, 9.9, 10.7, 10.0, 10.6, 9.9, 10.7, 10.0, 10.6, 9.9, 10.7, 10.0,
  10.7, 9.9, 10.6, 10.0, 10.7, 9.9, 10.8, 10.0, 10.6, 9.9, 10.7, 10.0, 10.6, 9.9, 10.7, 10.0, 10.8, 9.9, 10.6, 10.0,
  10.7, 10.0, 10.8, 9.9, 10.7, 10.0, 10.6, 9.9, 10.8, 10.0, 10.7, 9.9, 10.6, 10.0, 10.8, 9.9, 10.7, 10.0, 10.8, 9.9,
  10.7, 10.0, 10.8, 10.0, 10.7, 9.9, 10.8, 10.0, 10.7, 10.0, 10.8, 9.9, 10.7, 10.0, 10.8, 10.0, 10.7, 9.9, 10.8, 10.0,
  10.8, 10.0, 10.7, 10.0, 10.8, 9.9, 10.7, 10.0, 10.8, 10.0, 10.7, 9.9, 10.8, 10.0, 10.9, 10.0, 10.7, 9.9, 10.8, 10.0,
  10.7, 10.0, 10.8, 10.0, 10.7, 9.9, 10.8, 10.0, 10.7, 10.0, 10.5
];

const seriesValues = [c6M, c80M, c105M, c192M, c262M, c257M];
const seriesColors = ['#FFC010', '#C6C81A', '#CC00FF', '#00B9F5', '#42ECA8', '#AC8AF0'];

const FONT = 'Lato, "Open Sans", sans-serif';

// pair each value with its simulation time
function toPoints(values) {
  return values.map((v, i) => [i * timeStepPs, v]);
}

const chart = echarts.init(document.getElementById('chart'), null, { renderer: 'canvas' });

chart.setOption({
  animation: false,
  backgroundColor: '#ffffff',
  grid: { left: 121, right: 1, top: 14, bottom: 144, containLabel: false },
  xAxis: {
    type: 'value',
    min: xTicks[0],
    max: 3150,
    interval: xTicks[1] - xTicks[0],
    axisLine: { show: true, lineStyle: { color: '#d9d9d9', width: 1.5 } },
    axisTick: { show: false },
    splitLine: { show: false },
    axisLabel: {
      margin: 14,
      color: '#000',
      fontFamily: FONT,
      fontWeight: 'bold',
      fontSize: 25,
      showMaxLabel: false,
      formatter: v => (xTicks.indexOf(v) >= 0 ? String(v) : '')
    }
  },
  yAxis: {
    type: 'value',
    min: yTicks[0],
    max: 18.5,
    interval: 1,
    axisLine: { show: true, lineStyle: { color: '#d9d9d9', width: 1.5 } },
    axisTick: { show: false },
    splitLine: { show: true, lineStyle: { color: '#d9d9d9', width: 1.5 } },
    axisLabel: {
      margin: 29,
      color: '#000',
      fontFamily: FONT,
      fontWeight: 'bold',
      fontSize: 25,
      formatter: v => (yTicks.indexOf(v) >= 0 ? String(v) : '')
    }
  },
  legend: {
    data: seriesNames,
    left: 144,
    top: 636,
    icon: 'rect',
    itemWidth: 28,
    itemHeight: 4,
    itemGap: 33,
    textStyle: {
      color: '#000',
      fontFamily: FONT,
      fontWeight: 'bold',
      fontSize: 27,
      padding: [0, 0, 0, -2]
    }
  },
  graphic: [
    {
      type: 'text',
      x: 28,
      y: 253,
      rotation: Math.PI / 2,
      style: {
        text: '{i|Distancia (Å)}{s| }{n|C-M}',
        align: 'center',
        verticalAlign: 'middle',
        rich: {
          i: { fontFamily: FONT, fontWeight: 'bold', fontStyle: 'italic', fontSize: 33, fill: '#000' },
          s: { fontFamily: FONT, fontWeight: 'bold', fontSize: 33, fill: '#000' },
          n: { fontFamily: FONT, fontWeight: 'bold', fontSize: 33, fill: '#000' }
        }
      }
    },
    {
      type: 'text',
      x: 627,
      y: 611,
      style: {
        text: 'Tiempo (ps)',
        align: 'center',
        verticalAlign: 'middle',
        fontFamily: FONT,
        fontWeight: 'bold',
        fontStyle: 'italic',
        fontSize: 34,
        fill: '#000'
      }
    }
  ],
  series: seriesNames.map((name, k) => ({
    name: name,
    type: 'line',
    data: toPoints(seriesValues[k]),
    showSymbol: false,
    symbol: 'none',
    color: seriesColors[k],
    lineStyle: { width: 2.7, color: seriesColors[k], join: 'round' },
    emphasis: { disabled: true }
  }))
});
</script>
</body>
</html>
